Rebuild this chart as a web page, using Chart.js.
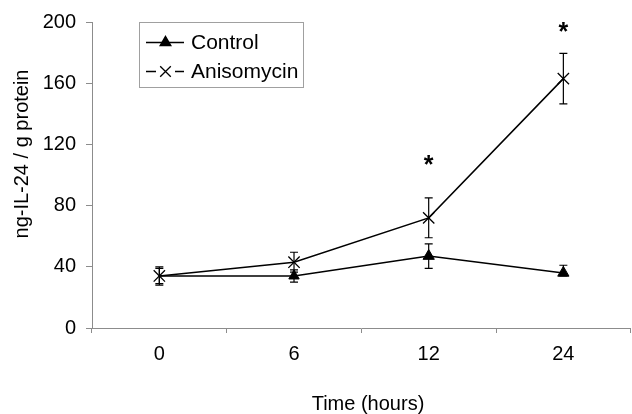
<!DOCTYPE html>
<html><head><meta charset="utf-8">
<script src="https://cdn.jsdelivr.net/npm/chart.js@4"></script>
<style>
html,body{margin:0;padding:0;background:#fff;overflow:hidden;width:632px;height:414px}
#wrap{width:640px;height:414px}
</style></head>
<body><div id="wrap"><canvas id="c" width="640" height="414" style="width:640px;height:414px"></canvas></div>
<script>
const categories = ['0', '6', '12', '24'];
const controlValues = [34, 34, 47, 36];
const controlErrorsUp = [5, 4, 8, 5];
const controlErrorsDown = [5, 4, 8, 2];
const anisomycinValues = [34, 43, 72, 163];
const anisomycinErrorsUp = [6, 6.5, 13, 16.5];
const anisomycinErrorsDown = [6, 6.5, 13, 16.5];
const significanceY = [null, null, 111, 198];
const yTickValues = [0, 40, 80, 120, 160, 200];
const xTitle = 'Time (hours)';
const yTitle = 'ng-IL-24 / g protein';
const seriesNames = ['Control', 'Anisomycin'];

const FONT = 'Arial, "Liberation Sans", sans-serif';
const AXIS_GRAY = '#8c8c8c';

const errorBars = {
  id: 'errorBars',
  beforeDatasetsDraw(chart) {
    const ctx = chart.ctx, ys = chart.scales.y;
    const ups = [controlErrorsUp, anisomycinErrorsUp];
    const downs = [controlErrorsDown, anisomycinErrorsDown];
    chart.data.datasets.forEach((ds, di) => {
      const meta = chart.getDatasetMeta(di);
      meta.data.forEach((pt, i) => {
        const v = ds.data[i], eu = ups[di][i], ed = downs[di][i];
        if (v == null) return;
        const x = pt.x, yt = ys.getPixelForValue(v + eu), yb = ys.getPixelForValue(v - ed);
        ctx.save();
        ctx.strokeStyle = '#000'; ctx.lineWidth = 1.2;
        ctx.beginPath();
        ctx.moveTo(x, yt); ctx.lineTo(x, yb);
        ctx.moveTo(x - 4, yt); ctx.lineTo(x + 4, yt);
        ctx.moveTo(x - 4, yb); ctx.lineTo(x + 4, yb);
        ctx.stroke();
        ctx.restore();
      });
    });
  }
};

const extras = {
  id: 'extras',
  afterDraw(chart) {
    const ctx = chart.ctx, xs = chart.scales.x, ys = chart.scales.y;
    ctx.save();
    // significance asterisks
    ctx.fillStyle = '#000';
    ctx.font = 'bold 25px ' + FONT;
    ctx.textAlign = 'center';
    ctx.textBaseline = 'alphabetic';
    significanceY.forEach((v, i) => {
      if (v == null) return;
      const x = xs.getPixelForValue(i), y = ys.getPixelForValue(v);
      ctx.fillText('*', x, y + 0.6 * 25);
    });
    // axis titles
    ctx.font = '20px ' + FONT;
    ctx.textBaseline = 'middle';
    ctx.textAlign = 'center';
    ctx.fillText(xTitle, 368, 404);
    ctx.save();
    ctx.translate(22, 154);
    ctx.rotate(-Math.PI / 2);
    ctx.fillText(yTitle, 0, 0);
    ctx.restore();
    // legend
    ctx.strokeStyle = '#a0a0a0'; ctx.lineWidth = 1;
    ctx.strokeRect(139.5, 22.5, 164, 65);
    ctx.strokeStyle = '#000'; ctx.lineWidth = 1.5;
    ctx.beginPath(); ctx.moveTo(146, 42.5); ctx.lineTo(184, 42.5); ctx.stroke();
    Chart.helpers.drawPoint(ctx, {pointStyle: 'triangle', radius: 6, borderWidth: 1}, 165.5, 42.5);
    ctx.fillStyle = '#000';
    ctx.fill();
    ctx.beginPath();
    ctx.moveTo(146, 71.5); ctx.lineTo(156, 71.5);
    ctx.moveTo(175, 71.5); ctx.lineTo(184, 71.5);
    ctx.stroke();
    ctx.lineWidth = 1.3;
    Chart.helpers.drawPoint(ctx, {pointStyle: 'crossRot', radius: 7.5, borderWidth: 1.3}, 165.5, 71.5);
    ctx.font = '21px ' + FONT;
    ctx.textAlign = 'left';
    ctx.textBaseline = 'middle';
    ctx.fillStyle = '#000';
    ctx.fillText(seriesNames[0], 191, 43.5);
    ctx.fillText(seriesNames[1], 191, 72.5);
    ctx.restore();
  }
};

new Chart(document.getElementById('c'), {
  type: 'line',
  data: {
    labels: categories,
    datasets: [
      {
        label: seriesNames[0],
        data: controlValues,
        borderColor: '#000', borderWidth: 1.5,
        pointStyle: 'triangle', pointRadius: [0, 6, 6.5, 6.5],
        pointBackgroundColor: '#000', pointBorderColor: '#000', pointBorderWidth: 1,
        tension: 0
      },
      {
        label: seriesNames[1],
        data: anisomycinValues,
        borderColor: '#000', borderWidth: 1.5,
        pointStyle: 'crossRot', pointRadius: 8,
        pointBackgroundColor: '#000', pointBorderColor: '#000', pointBorderWidth: 1.3,
        tension: 0
      }
    ]
  },
  options: {
    responsive: false,
    animation: false,
    devicePixelRatio: 1,
    layout: {padding: {top: 22, right: 0, bottom: 0, left: 0}},
    plugins: {legend: {display: false}, tooltip: {enabled: false}},
    scales: {
      x: {
        type: 'category',
        offset: true,
        grid: {offset: true, drawOnChartArea: false, drawTicks: true, tickLength: 5, color: AXIS_GRAY},
        border: {color: AXIS_GRAY, width: 1},
        ticks: {font: {size: 20, family: FONT}, color: '#000', padding: 9, maxRotation: 0},
        afterFit(s) { s.height = 86; }
      },
      y: {
        min: 0, max: 200,
        afterBuildTicks(s) { s.ticks = yTickValues.map(v => ({value: v})); },
        grid: {drawOnChartArea: false, drawTicks: true, tickLength: 6, color: AXIS_GRAY},
        border: {color: AXIS_GRAY, width: 1},
        ticks: {font: {size: 20, family: FONT}, color: '#000', padding: 10},
        afterFit(s) { s.width = 92; }
      }
    }
  },
  plugins: [errorBars, extras]
});
</script>
</body></html>
